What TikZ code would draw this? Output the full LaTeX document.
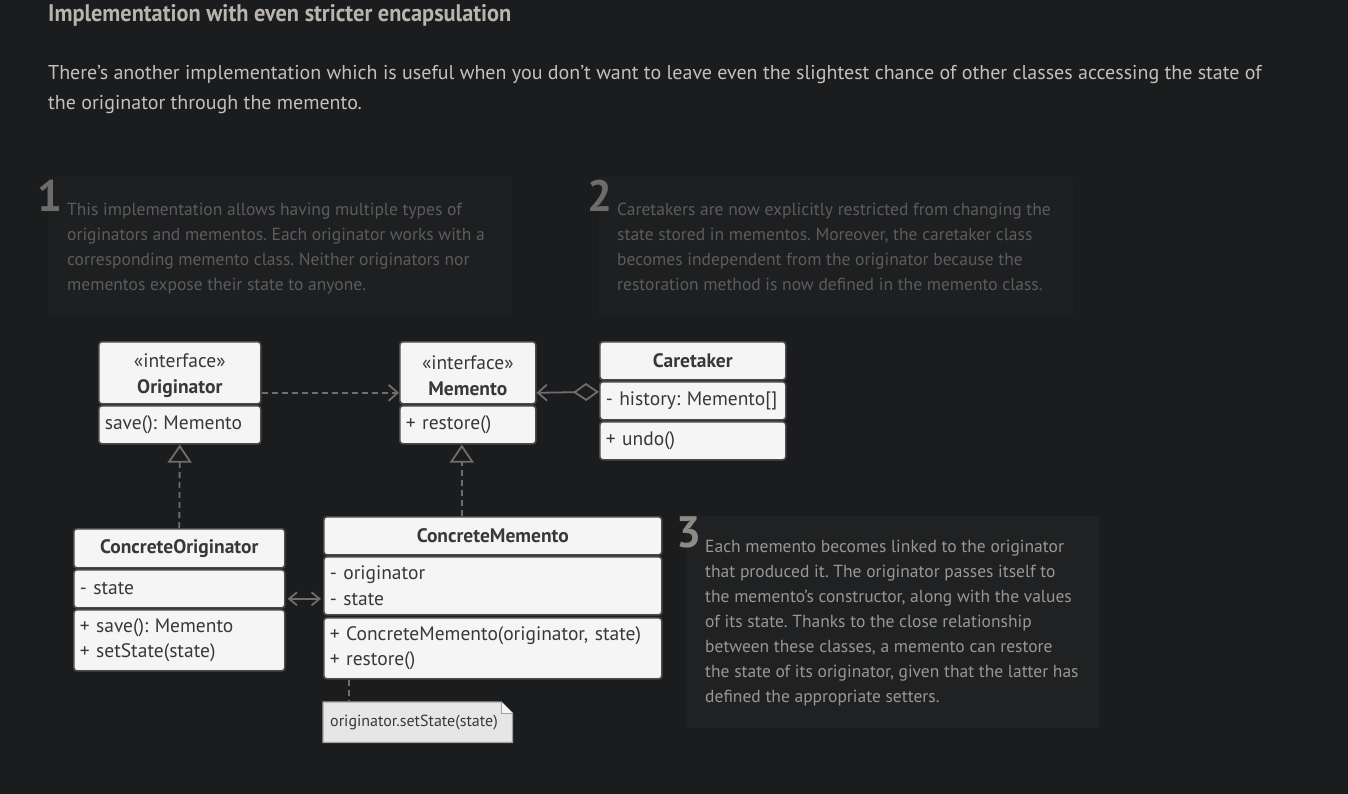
\documentclass[tikz,border=0pt]{standalone}
\usepackage{fontspec}
\setmainfont{PT Sans}
\newfontfamily\headfont{PT Sans}[FakeStretch=0.93]
\usetikzlibrary{arrows.meta,calc}
\frenchspacing
\definecolor{bg}{HTML}{1B1C1E}
\definecolor{notebg}{HTML}{1E1F21}
\definecolor{notebgb}{HTML}{202123}
\definecolor{headcol}{HTML}{B8B4AE}
\definecolor{paracol}{HTML}{C4C0BA}
\definecolor{dimtext}{HTML}{5C5C5C}
\definecolor{dimnum}{HTML}{6C6C6A}
\definecolor{brtext}{HTML}{9A9792}
\definecolor{brnum}{HTML}{8E8B87}
\definecolor{boxfill}{HTML}{F5F5F5}
\definecolor{boxline}{HTML}{4A4A4A}
\definecolor{boxtext}{HTML}{383838}
\definecolor{conn}{HTML}{6E6E6E}
\definecolor{notefill}{HTML}{E6E6E6}
\definecolor{noteline}{HTML}{A0A0A0}
\tikzset{
  umlbox/.style={draw=boxline, fill=boxfill, rounded corners=3pt, line width=1.6pt,
    inner xsep=6pt, inner ysep=0pt, text=boxtext, font=\fontsize{19.5}{25.5}\selectfont, anchor=north west},
  umlhead/.style={umlbox, align=center},
  umlbody/.style={umlbox, align=left},
  notearea/.style={fill=#1, draw=none, anchor=north west, inner sep=0pt},
  notetext/.style={anchor=north west, align=left, inner sep=0pt, font=\fontsize{17.5}{25}\selectfont},
  bignum/.style={anchor=north west, inner sep=0pt, font=\fontsize{44}{44}\selectfont\bfseries},
  conline/.style={draw=conn, line width=1.8pt},
  dashline/.style={dash pattern=on 6pt off 4pt},
  openarrow/.style={-{Straight Barb[length=9pt,width=16pt,line width=1.8pt]}},
}
\begin{document}
\begin{tikzpicture}[x=1pt,y=-1pt]
\fill[bg] (0,0) rectangle (1348,794);
\useasboundingbox (0,0) rectangle (1348,794);

% heading and paragraph
\node[anchor=base west, inner sep=0pt, text=headcol, font=\fontsize{24}{28}\selectfont\headfont\bfseries] (title) at (48,22) {Implementation with even stricter encapsulation};
\node[anchor=base west, inner sep=0pt, text=paracol, font=\fontsize{20}{30}\selectfont, align=left] (para) at (48,110)
  {There’s another implementation which is useful when you don’t want to leave even the slightest chance of other classes accessing the state of\\the originator through the memento.};

% note areas
\node[notearea=notebg, minimum width=464pt, minimum height=138pt] (n1) at (48,177) {};
\node[notearea=notebg, minimum width=474pt, minimum height=138pt] (n2) at (599,177) {};
\node[notearea=notebgb, minimum width=413pt, minimum height=212pt] (n3) at (686,516) {};

\node[bignum, text=dimnum] (num1) at (37,180) {1};
\node[notetext, text=dimtext] (t1) at (67,203) {This implementation allows having multiple types of\\originators and mementos. Each originator works with a\\corresponding memento class. Neither originators nor\\mementos expose their state to anyone.};
\node[bignum, text=dimnum] (num2) at (587,180) {2};
\node[notetext, text=dimtext] (t2) at (617,203) {Caretakers are now explicitly restricted from changing the\\state stored in mementos. Moreover, the caretaker class\\becomes independent from the originator because the\\restoration method is now defined in the memento class.};
\node[bignum, text=brnum] (num3) at (676,516) {3};
\node[notetext, text=brtext] (t3) at (705,540) {Each memento becomes linked to the originator\\that produced it. The originator passes itself to\\the memento’s constructor, along with the values\\of its state. Thanks to the close relationship\\between these classes, a memento can restore\\the state of its originator, given that the latter has\\defined the appropriate setters.};

% UML classes
\node[umlhead, minimum width=162pt, minimum height=62pt, text width=150pt] (orig) at (98,341) {\rule{0pt}{20pt}«interface»\\\textbf{Originator}};
\node[umlbody, minimum width=162pt, minimum height=38pt, text width=150pt] (origB) at (98,405) {save(): Memento};

\node[umlhead, minimum width=136pt, minimum height=62pt, text width=124pt] (mem) at (399,341) {\rule{0pt}{20pt}«interface»\\\textbf{Memento}};
\node[umlbody, minimum width=136pt, minimum height=38pt, text width=124pt] (memB) at (399,405) {+ restore()};

\node[umlhead, minimum width=186pt, minimum height=38pt, text width=174pt] (care) at (599,341) {\textbf{Caretaker}};
\node[umlbody, minimum width=186pt, minimum height=38pt, text width=174pt] (careA) at (599,381) {- history: Memento[]};
\node[umlbody, minimum width=186pt, minimum height=38pt, text width=174pt] (careM) at (599,421) {+ undo()};

\node[umlhead, minimum width=211pt, minimum height=39pt, text width=199pt] (corig) at (73,528) {\textbf{ConcreteOriginator}};
\node[umlbody, minimum width=211pt, minimum height=38pt, text width=199pt] (corigA) at (73,569) {- state};
\node[umlbody, minimum width=211pt, minimum height=61pt, text width=199pt] (corigM) at (73,609) {+ save(): Memento\\+ setState(state)};

\node[umlhead, minimum width=338pt, minimum height=38pt, text width=326pt] (cmem) at (323,516) {\textbf{ConcreteMemento}};
\node[umlbody, minimum width=338pt, minimum height=58pt, text width=326pt] (cmemA) at (323,556) {- originator\\- state};
\node[umlbody, minimum width=338pt, minimum height=61pt, text width=326pt] (cmemM) at (323,617) {+ ConcreteMemento(originator, state)\\+ restore()};

% note
\node[anchor=north west, minimum width=189pt, minimum height=40pt, inner sep=0pt] (note) at (323,702) {};
\draw[fill=notefill, draw=noteline, line width=1.2pt]
  (note.north west) -- ([xshift=-11pt]note.north east) -- ([yshift=-11pt]note.north east) -- (note.south east) -- (note.south west) -- cycle;
\draw[draw=noteline, line width=1pt, fill=boxfill] ([xshift=-11pt]note.north east) -- ([xshift=-11pt,yshift=-11pt]note.north east) -- ([yshift=-11pt]note.north east);
\node[anchor=west, inner sep=0pt, text=boxtext, font=\fontsize{16}{18}\selectfont] (notetxt) at ([xshift=7pt]note.west) {originator.setState(state)};

% connectors
\draw[conline, dashline, openarrow] ([yshift=-20pt]orig.east) -- ([yshift=-20pt]mem.west);
\draw[conline, {Diamond[open,length=26pt,width=18pt,line width=1.8pt,fill=bg]}-{Straight Barb[length=9pt,width=16pt,line width=1.8pt]}] ([yshift=9pt]careA.west) -- ([yshift=-20pt]mem.east);
\draw[conline, dashline, -{Triangle[open,length=18pt,width=24pt,line width=1.8pt,fill=bg]}] (corig.north) -- (origB.south);
\draw[conline, dashline, -{Triangle[open,length=18pt,width=24pt,line width=1.8pt,fill=bg]}] ([xshift=-6pt]cmem.north -| memB.south) -- ([xshift=-6pt]memB.south);
\draw[conline, {Straight Barb[length=8pt,width=13pt,line width=1.8pt]}-{Straight Barb[length=8pt,width=13pt,line width=1.8pt]}] ([xshift=2pt,yshift=-10pt]corigA.east) -- ([xshift=-2pt,yshift=-13pt]cmemA.west);
\draw[conline, dashline] ([xshift=26pt]cmemM.south west) -- ([xshift=26pt]note.north west);
\end{tikzpicture}
\end{document}
